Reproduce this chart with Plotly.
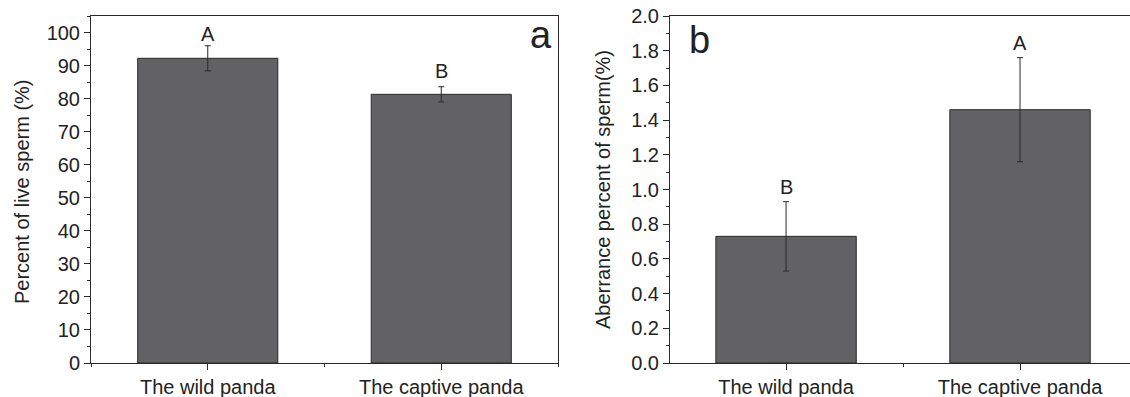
import plotly.graph_objects as go

categories = ["The wild panda", "The captive panda"]
live_sperm = [92.2, 81.3]
live_err = [3.8, 2.3]
aberrance = [0.73, 1.46]
aberrance_err = [0.20, 0.30]
letters_a = ["A", "B"]
letters_b = ["B", "A"]

W, H = 1130, 397
BAR = "#626164"
LINE = "#2a2a2a"
FONT = "Liberation Sans, Arial, sans-serif"
FS = 20

x_pos = list(range(len(categories)))

fig = go.Figure()
fig.add_trace(go.Bar(
    x=x_pos, y=live_sperm, width=0.6,
    marker=dict(color=BAR, line=dict(color=LINE, width=1)),
    error_y=dict(type="data", array=live_err, color=LINE, thickness=1, width=3),
    xaxis="x", yaxis="y", showlegend=False))
fig.add_trace(go.Bar(
    x=x_pos, y=aberrance, width=0.6,
    marker=dict(color=BAR, line=dict(color=LINE, width=1)),
    error_y=dict(type="data", array=aberrance_err, color=LINE, thickness=1, width=3),
    xaxis="x2", yaxis="y2", showlegend=False))

def px_x(p):
    return p / W

def px_y(p):
    return 1 - p / H

ydom = [px_y(363), px_y(16)]
common_x = dict(
    tickvals=x_pos, ticktext=categories, showgrid=False, zeroline=False,
    showline=True, linecolor=LINE, linewidth=1, ticks="outside", ticklen=6,
    tickcolor=LINE, tickfont=dict(family=FONT, size=FS, color="#222"),
    minor=dict(tickvals=[-0.5, 0.5, 1.5], ticks="outside", ticklen=3, tickcolor=LINE),
    automargin=False, fixedrange=True)
common_y = dict(
    showgrid=False, zeroline=False, showline=True, linecolor=LINE, linewidth=1,
    ticks="outside", ticklen=6, tickcolor=LINE,
    tickfont=dict(family=FONT, size=FS, color="#222"),
    automargin=False, fixedrange=True)

fig.update_layout(
    width=W, height=H, margin=dict(l=0, r=0, t=0, b=0, autoexpand=False),
    paper_bgcolor="white", plot_bgcolor="white",
    font=dict(family=FONT, color="#222"),
    xaxis=dict(domain=[px_x(91), px_x(558)], range=[-0.5, 1.5], mirror=True,
               anchor="y", **common_x),
    yaxis=dict(domain=ydom, range=[0, 105], tickvals=list(range(0, 101, 10)),
               mirror=True, anchor="x",
               minor=dict(dtick=5, ticks="outside", ticklen=3, tickcolor=LINE),
               **common_y),
    xaxis2=dict(domain=[px_x(670), 1.0], range=[-0.496, 1.47], mirror=True,
                anchor="y2", **common_x),
    yaxis2=dict(domain=ydom, range=[0, 2.0], tickvals=[i / 5 for i in range(11)],
                tickformat=".1f", mirror=False, anchor="x2",
                minor=dict(dtick=0.1, ticks="outside", ticklen=3, tickcolor=LINE),
                **common_y),
)

shift_a = [-1, 3]
shift_b = [2, 2]
ann = []
for i, t in enumerate(letters_a):
    ann.append(dict(x=x_pos[i], y=live_sperm[i] + live_err[i], xref="x", yref="y",
                    text=t, showarrow=False, xanchor="center", yanchor="bottom",
                    yshift=shift_a[i],
                    font=dict(family=FONT, size=FS, color="#222")))
for i, t in enumerate(letters_b):
    ann.append(dict(x=x_pos[i], y=aberrance[i] + aberrance_err[i], xref="x2", yref="y2",
                    text=t, showarrow=False, xanchor="center", yanchor="bottom",
                    yshift=shift_b[i],
                    font=dict(family=FONT, size=FS, color="#222")))
ann.append(dict(x=px_x(541), y=px_y(35), xref="paper", yref="paper", text="a",
                xanchor="center", yanchor="middle",
                showarrow=False, font=dict(family=FONT, size=38, color="#222")))
ann.append(dict(x=px_x(699), y=px_y(40), xref="paper", yref="paper", text="b",
                xanchor="center", yanchor="middle",
                showarrow=False, font=dict(family=FONT, size=38, color="#222")))
ann.append(dict(x=px_x(22), y=px_y(192), xref="paper", yref="paper",
                text="Percent of live sperm (%)", textangle=-90, showarrow=False,
                xanchor="center", yanchor="middle",
                font=dict(family=FONT, size=FS, color="#222")))
ann.append(dict(x=px_x(603), y=px_y(190), xref="paper", yref="paper",
                text="Aberrance percent of sperm(%)", textangle=-90, showarrow=False,
                xanchor="center", yanchor="middle",
                font=dict(family=FONT, size=FS, color="#222")))
fig.update_layout(annotations=ann)

fig.write_html("out.html")
